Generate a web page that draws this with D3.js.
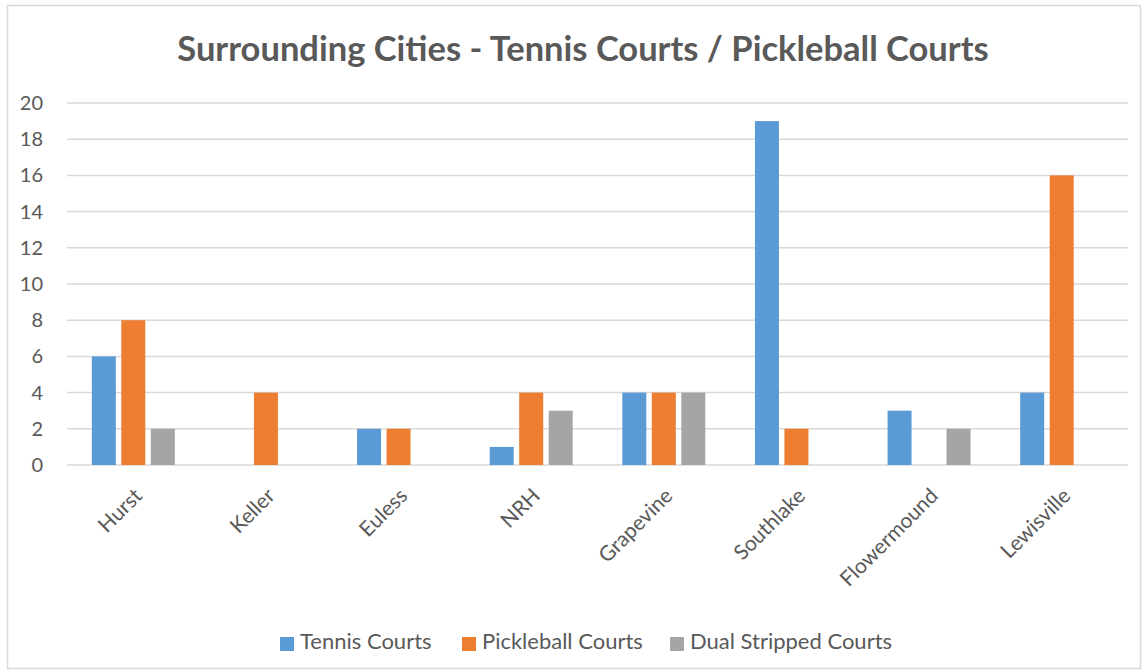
<!DOCTYPE html>
<html>
<head>
<meta charset="utf-8">
<script src="https://cdn.jsdelivr.net/npm/d3@7"></script>
<style>
  body { margin: 0; background: #fff; }
  svg { display: block; }
</style>
</head>
<body>
<div id="chart"></div>
<script>
var cities = ["Hurst", "Keller", "Euless", "NRH", "Grapevine", "Southlake", "Flowermound", "Lewisville"];
var seriesNames = ["Tennis Courts", "Pickleball Courts", "Dual Stripped Courts"];
var tennis = [6, 0, 2, 1, 4, 19, 3, 4];
var pickleball = [8, 4, 2, 4, 4, 2, 0, 16];
var dual = [2, 0, 0, 3, 4, 0, 2, 0];
var colors = ["#5B9BD5", "#ED7D31", "#A5A5A5"];
var yTicks = [0, 2, 4, 6, 8, 10, 12, 14, 16, 18, 20];

var W = 1145, H = 672;
var font = "Lato, 'Open Sans', sans-serif";
var plotL = 67, plotR = 1128, plotT = 103, plotB = 465;

var svg = d3.select("#chart").append("svg").attr("width", W).attr("height", H);

svg.append("rect")
  .attr("x", 7.5).attr("y", 5.5).attr("width", W - 12).attr("height", H - 9)
  .attr("fill", "#fff").attr("stroke", "#d9d9d9").attr("stroke-width", 1.5);

svg.append("text")
  .attr("x", 583).attr("y", 61)
  .attr("text-anchor", "middle")
  .attr("font-family", font).attr("font-weight", "bold").attr("font-size", 34.5)
  .attr("fill", "#595959")
  .text("Surrounding Cities - Tennis Courts / Pickleball Courts");

var x = d3.scaleBand().domain(cities).range([plotL, plotR]).padding(0);
var y = d3.scaleLinear().domain([0, 20]).range([plotB, plotT]);

// gridlines
svg.append("g").selectAll("line").data(yTicks).enter().append("line")
  .attr("x1", plotL).attr("x2", plotR)
  .attr("y1", function(d) { return y(d); }).attr("y2", function(d) { return y(d); })
  .attr("stroke", "#d9d9d9").attr("stroke-width", 1.5);

var yAxis = svg.append("g").attr("transform", "translate(" + plotL + ",0)")
  .call(d3.axisLeft(y).tickValues(yTicks).tickSize(0).tickPadding(24));
yAxis.select(".domain").remove();
yAxis.selectAll("text")
  .attr("font-family", font).attr("font-size", 20).attr("fill", "#595959");

var data = [tennis, pickleball, dual];
var barW = 24, step = 29.5;

data.forEach(function(vals, si) {
  svg.append("g").selectAll("rect").data(vals).enter().append("rect")
    .attr("x", function(d, i) { return x(cities[i]) + x.bandwidth() / 2 + (si - 1) * step - barW / 2; })
    .attr("width", barW)
    .attr("y", function(d) { return y(d); })
    .attr("height", function(d) { return y(0) - y(d); })
    .attr("fill", colors[si]);
});

// x labels
svg.append("g").selectAll("text").data(cities).enter().append("text")
  .attr("transform", function(d) {
    return "translate(" + (x(d) + x.bandwidth() / 2 - 1) + "," + (plotB + 21) + ") rotate(-45)";
  })
  .attr("text-anchor", "end")
  .attr("dy", "0.75em")
  .attr("font-family", font).attr("font-size", 21).attr("fill", "#595959")
  .text(function(d) { return d; });

// legend
var legendX = [280, 462, 670];
var lg = svg.append("g").selectAll("g").data(seriesNames).enter().append("g")
  .attr("transform", function(d, i) { return "translate(" + legendX[i] + ",637)"; });
lg.append("rect").attr("width", 14).attr("height", 14).attr("fill", function(d, i) { return colors[i]; });
lg.append("text").attr("x", 20).attr("y", 12)
  .attr("font-family", font).attr("font-size", 22).attr("fill", "#595959")
  .text(function(d) { return d; });
</script>
</body>
</html>
